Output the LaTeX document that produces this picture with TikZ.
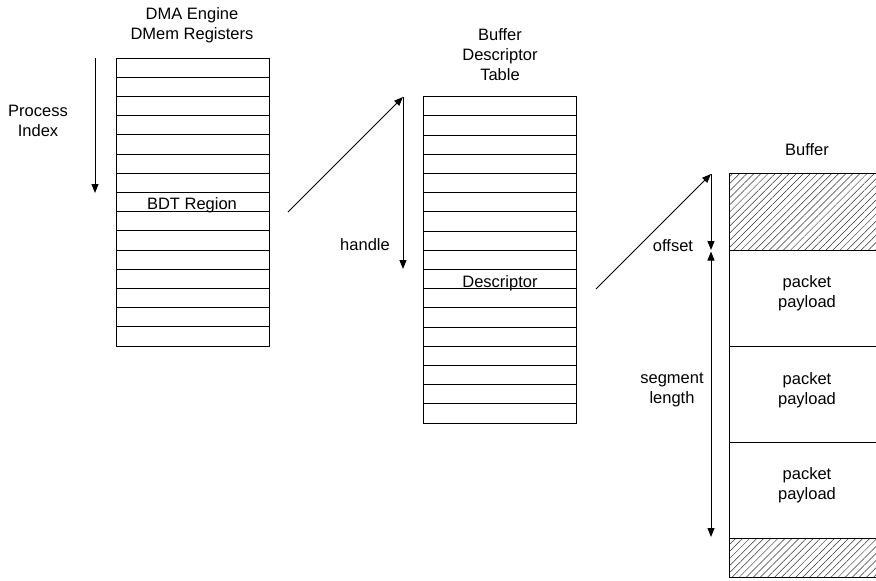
\documentclass[tikz,border=0pt]{standalone}
\usepackage{fontspec}
\setmainfont{Liberation Sans}
\usetikzlibrary{arrows.meta,patterns.meta}

\tikzset{
  lbl/.style={inner sep=0pt, align=center, font=\fontsize{16.5}{20}\selectfont},
  frame/.style={draw=black, line width=1pt},
  rowline/.style={draw=black, line width=1pt},
  ptr/.style={draw=black, line width=1pt, -{Triangle[length=9pt,width=7pt]}},
  dptr/.style={draw=black, line width=1pt, {Triangle[length=9pt,width=7pt]}-{Triangle[length=9pt,width=7pt]}},
  hatched/.style={draw=black, line width=1pt,
    pattern={Lines[angle=45,distance=5pt,line width=0.5pt]}, pattern color=black!80},
}

\begin{document}
\begin{tikzpicture}[x=1pt,y=-1pt]
\useasboundingbox (0,0) rectangle (876,581);
\clip (0,0) rectangle (876,581);

% DMem register file: 15 rows
\draw[frame] (116,58) rectangle (269,346);
\foreach \i in {1,...,14} \draw[rowline] (116,58+19.2*\i) -- (269,58+19.2*\i);
\node[lbl] (dmemtitle) at (192,25) {DMA Engine\\DMem Registers};
\node[lbl] (bdtreg) at (192,205) {BDT Region};
\node[lbl] (procidx) at (38,121) {Process\\Index};
\coordinate (procTop) at (95,58);
\coordinate (procEnd) at (95,193);
\draw[ptr] (procTop) -- (procEnd);

% Buffer descriptor table: 17 rows
\draw[frame] (423,96.7) rectangle (576,423);
\foreach \i in {1,...,16} \draw[rowline] (423,96.7+19.2*\i) -- (576,96.7+19.2*\i);
\node[lbl] (bdttitle) at (500,55) {Buffer\\Descriptor\\Table};
\node[lbl] (desc) at (500,283) {Descriptor};
\node[lbl] (handle) at (365,245) {handle};

\coordinate (bdtFrom) at (288,212);
\coordinate (bdtBase) at (403,97);
\coordinate (handleEnd) at (403,269);
\draw[ptr] (bdtFrom) -- (bdtBase);
\draw[ptr] (bdtBase) -- (handleEnd);

% Packet buffer
\draw[hatched] (729.3,173.3) rectangle (890,250);
\draw[frame] (729.3,250) rectangle (890,346);
\draw[frame] (729.3,346) rectangle (890,442.3);
\draw[frame] (729.3,442.3) rectangle (890,538.3);
\draw[hatched] (729.3,538.3) rectangle (890,577);
\node[lbl] (buftitle) at (807,150) {Buffer};
\node[lbl] (pay1) at (807,293) {packet\\payload};
\node[lbl] (pay2) at (807,390) {packet\\payload};
\node[lbl] (pay3) at (807,485) {packet\\payload};
\node[lbl] (offset) at (673,246) {offset};
\node[lbl] (seglen) at (672,390) {segment\\length};

\coordinate (descFrom) at (596,289);
\coordinate (bufBase) at (711,174);
\coordinate (offEnd) at (711,250);
\coordinate (segTop) at (711,251.5);
\coordinate (segEnd) at (711,537);
\draw[ptr] (descFrom) -- (bufBase);
\draw[ptr] (bufBase) -- (offEnd);
\draw[dptr] (segTop) -- (segEnd);
\end{tikzpicture}
\end{document}
